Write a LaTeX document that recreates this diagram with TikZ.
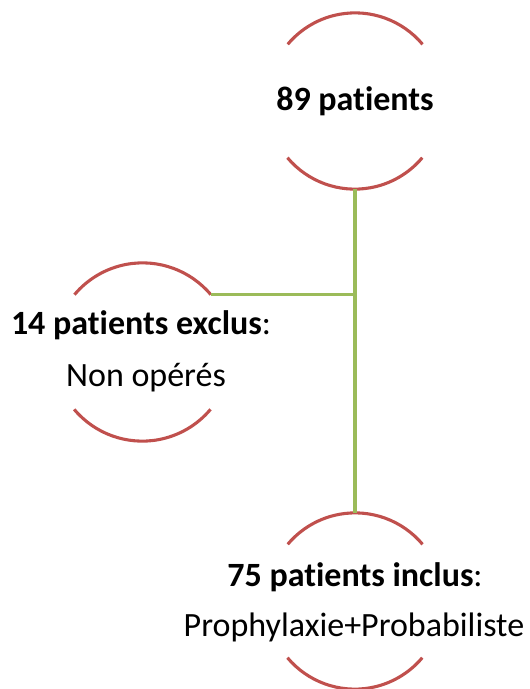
\documentclass[tikz,border=0pt]{standalone}
\usepackage{fontspec}
\setmainfont{Carlito}[Ligatures=NoCommon]
\definecolor{arcred}{HTML}{C0504D}
\definecolor{linkgreen}{HTML}{9BBB59}
\begin{document}
\begin{tikzpicture}[x=1pt,y=-1pt,
  ring/.style={circle,inner sep=0pt,minimum size=#1},
  arcline/.style={draw=arcred,line width=3.1pt},
  link/.style={draw=linkgreen,line width=3.4pt},
  txt/.style={inner sep=0pt,font=\fontsize{34}{40}\selectfont}]
\useasboundingbox (0,0) rectangle (530,689);
% circle frames (only top and bottom arcs are drawn; y axis points down)
\node[ring=176pt] (top) at (355,101) {};
\node[ring=178pt] (left) at (142.5,352) {};
\node[ring=176pt] (bot) at (355,601) {};
\foreach \n/\r in {top/88,left/89,bot/88}{
  \draw[arcline] (\n.40) arc[start angle=-40,end angle=-140,radius=\r];
  \draw[arcline] (\n.220) arc[start angle=140,end angle=40,radius=\r];
}
% connectors
\draw[link] (top.south) -- (bot.north);
\draw[link] (left.40) -- (left.40 -| top.south);
% labels
\node[txt] (t1) at (355,101) {\textbf{89 patients}};
\node[txt] (t2) at (141,325) {\textbf{14 patients exclus}:};
\node[txt] (t3) at (146,378) {Non opérés};
\node[txt] (t4) at (355,577) {\textbf{75 patients inclus}:};
\node[txt] (t5) at (354,627) {Prophylaxie+Probabiliste};
\end{tikzpicture}
\end{document}
